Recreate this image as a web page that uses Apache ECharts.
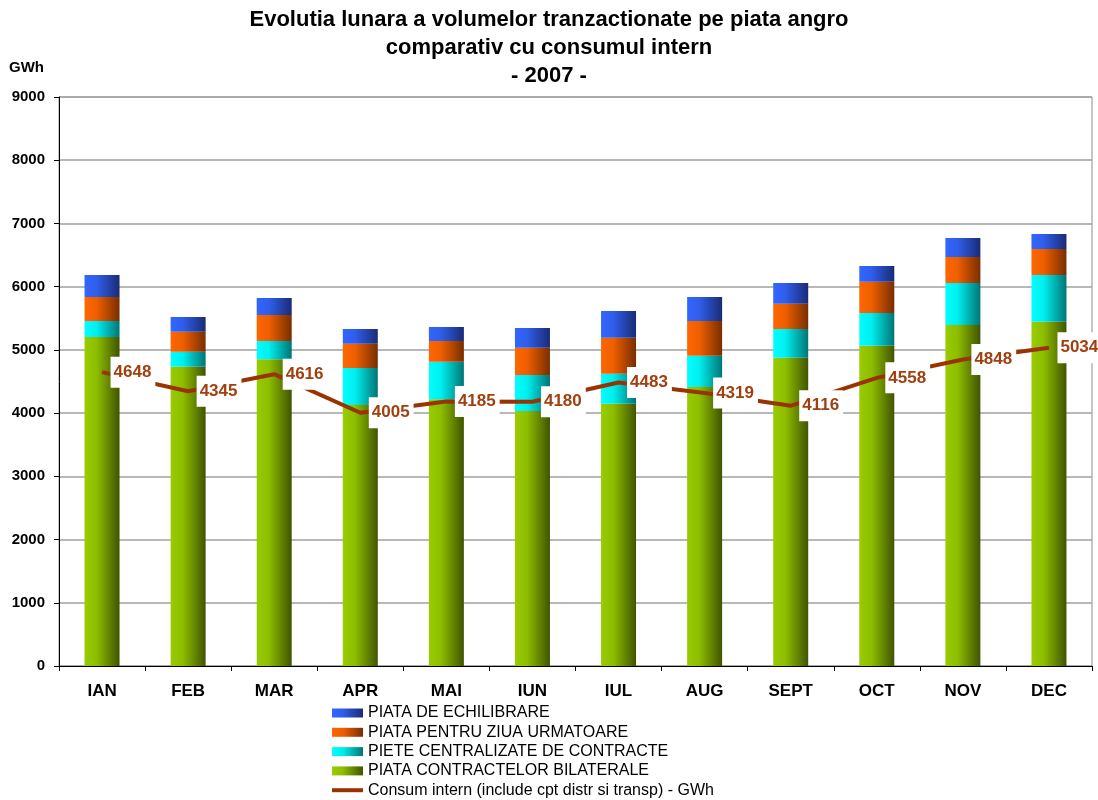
<!DOCTYPE html>
<html>
<head>
<meta charset="utf-8">
<script src="https://cdn.jsdelivr.net/npm/echarts@6/dist/echarts.min.js"></script>
<style>html,body{margin:0;padding:0;background:#fff}#c{width:1098px;height:800px}</style>
</head>
<body>
<div id="c"></div>
<script>
const months = ['IAN','FEB','MAR','APR','MAI','IUN','IUL','AUG','SEPT','OCT','NOV','DEC'];
const bilaterale = [5204,4735,4851,4128,4218,4034,4149,4413,4877,5067,5394,5446];
const centralizate = [253,237,290,586,596,569,475,496,454,517,664,739];
const ziuaUrmatoare = [380,316,411,384,327,432,569,548,400,495,412,411];
const echilibrare = [348,232,269,233,221,312,422,380,327,248,300,237];
const consumIntern = [4648,4345,4616,4005,4185,4180,4483,4319,4116,4558,4848,5034];
const seriesNames = ['PIATA CONTRACTELOR BILATERALE','PIETE CENTRALIZATE DE CONTRACTE','PIATA PENTRU ZIUA URMATOARE','PIATA DE ECHILIBRARE','Consum intern (include cpt distr si transp) - GWh'];
const titleText = 'Evolutia lunara a volumelor tranzactionate pe piata angro\ncomparativ cu consumul intern\n- 2007 -';

function grad(c0, c1, c2) {
  return new echarts.graphic.LinearGradient(0, 0, 1, 0, [
    {offset: 0, color: c0}, {offset: 0.35, color: c1}, {offset: 1, color: c2}
  ]);
}
const FONT = '"Liberation Sans", Arial, sans-serif';
const chart = echarts.init(document.getElementById('c'), null, {renderer: 'canvas'});
const barBase = {type: 'bar', stack: 'total', barWidth: 35, z: 2};
chart.setOption({
  animation: false,
  backgroundColor: '#fff',
  title: {
    text: titleText,
    left: 'center',
    top: 0,
    padding: [6, 5, 5, 21],
    textStyle: {fontFamily: FONT, fontSize: 22, fontWeight: 'bold', color: '#000', lineHeight: 28}
  },
  graphic: [{
    type: 'text', left: 9, top: 60,
    style: {text: 'GWh', font: 'bold 15px "Liberation Sans", Arial, sans-serif', fill: '#000'}
  }],
  grid: {left: 59, right: 6, top: 97, bottom: 134, show: true, borderColor: '#8c8c8c', borderWidth: 1, backgroundColor: 'transparent'},
  legend: {
    type: 'plain', orient: 'vertical', left: 330, top: 705, height: 120, padding: 0,
    itemWidth: 31, itemHeight: 9, itemGap: 3.3,
    textStyle: {fontFamily: FONT, fontSize: 16, color: '#000'},
    data: [
      {name: seriesNames[3], icon: 'rect'},
      {name: seriesNames[2], icon: 'rect'},
      {name: seriesNames[1], icon: 'rect'},
      {name: seriesNames[0], icon: 'rect'},
      {name: seriesNames[4], itemStyle: {opacity: 0}, lineStyle: {width: 4, color: '#993300'}}
    ]
  },
  xAxis: {
    type: 'category', data: months,
    axisLine: {lineStyle: {color: '#000', width: 1}},
    axisTick: {show: true, length: 5, alignWithLabel: false, lineStyle: {color: '#000'}},
    axisLabel: {fontFamily: FONT, fontSize: 17, fontWeight: 'bold', color: '#000', margin: 17}
  },
  yAxis: {
    type: 'value', min: 0, max: 9000, interval: 1000,
    axisLine: {show: true, lineStyle: {color: '#000', width: 1}},
    axisTick: {show: true, length: 5, lineStyle: {color: '#000'}},
    axisLabel: {fontFamily: FONT, fontSize: 15, fontWeight: 'bold', color: '#000', margin: 14, formatter: v => String(v)},
    splitLine: {lineStyle: {color: '#a0a0a0', width: 1.5}}
  },
  series: [
    Object.assign({}, barBase, {name: seriesNames[0], data: bilaterale, itemStyle: {color: grad('#99CC00', '#8DBD00', '#405400')}}),
    Object.assign({}, barBase, {name: seriesNames[1], data: centralizate, itemStyle: {color: grad('#00FFFF', '#00EEEE', '#007575')}}),
    Object.assign({}, barBase, {name: seriesNames[2], data: ziuaUrmatoare, itemStyle: {color: grad('#FF6600', '#EE5F00', '#782E00')}}),
    Object.assign({}, barBase, {name: seriesNames[3], data: echilibrare, itemStyle: {color: grad('#3366FF', '#2F5EEA', '#1A2B75')}}),
    {
      name: seriesNames[4], type: 'line', data: consumIntern, z: 5,
      symbol: 'circle', symbolSize: 1,
      itemStyle: {color: '#993300'},
      lineStyle: {color: '#993300', width: 4},
      label: {
        show: true, position: 'right', distance: 8,
        fontFamily: FONT, fontSize: 17, fontWeight: 'bold', color: '#A0400F',
        backgroundColor: '#fff', padding: [7, 4, 7, 3]
      }
    }
  ]
});
</script>
</body>
</html>
